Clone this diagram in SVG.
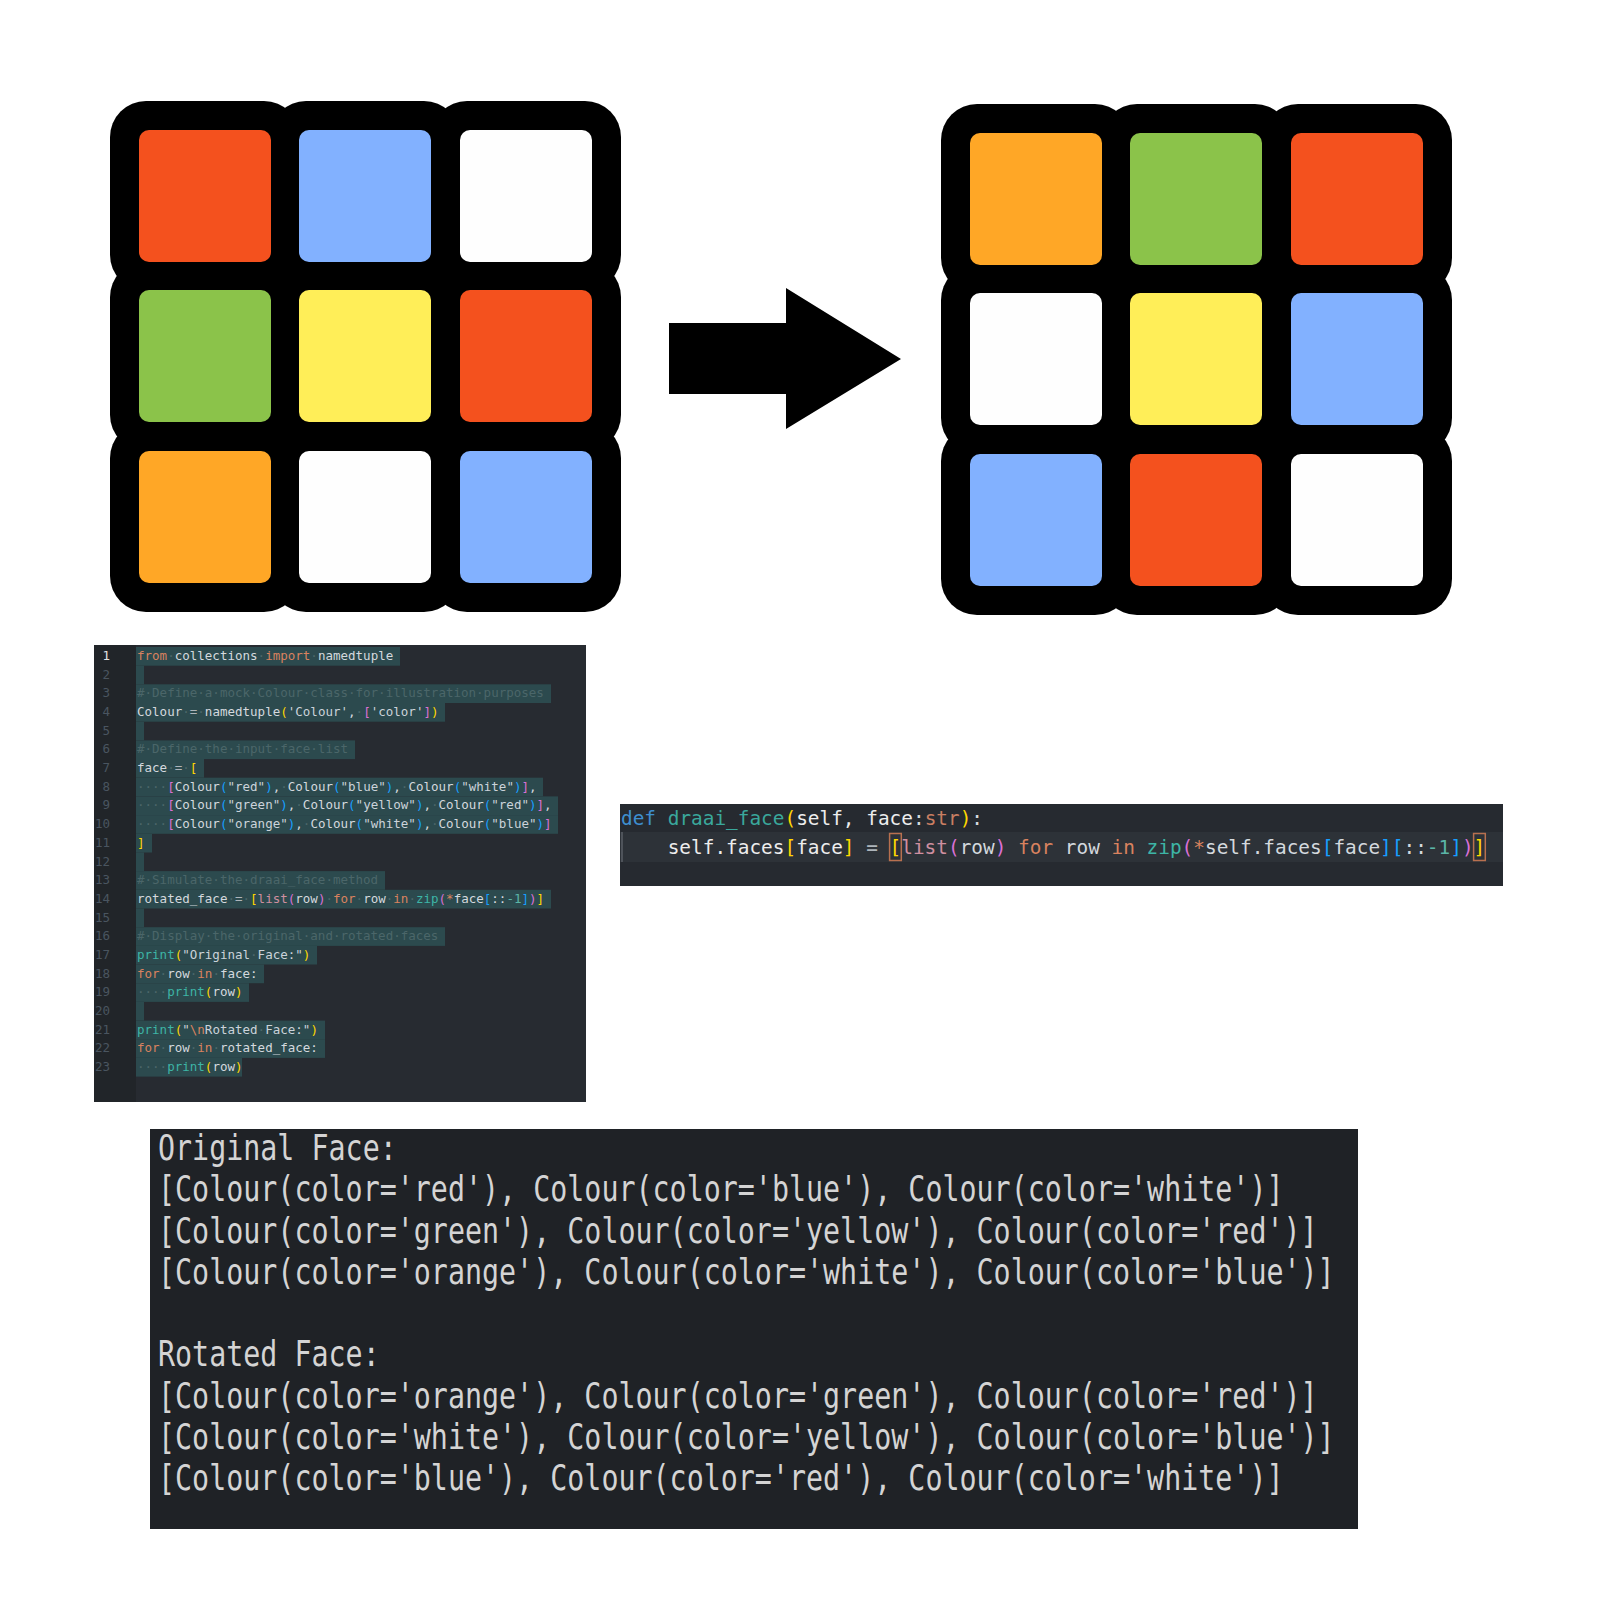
<svg xmlns="http://www.w3.org/2000/svg" width="1600" height="1600" viewBox="0 0 1600 1600">
<style>
.blk{fill:#000}
.r{fill:#F4511E}.b{fill:#82B1FF}.w{fill:#FEFEFE}.g{fill:#8BC34A}.y{fill:#FFEE58}.o{fill:#FFA726}
.mono{font-family:"DejaVu Sans Mono","Liberation Mono",monospace;white-space:pre}
.c1{font-size:12.52px}
.c2{font-size:19.4px}
.c3{font-size:35px;fill:#D4D4D4}
.ln{fill:#4A5560;text-anchor:end}
.ln1{fill:#E2E2E2;text-anchor:end}
.id{fill:#D4D9DE}.kw{fill:#D9825F}.cm{fill:#4B6669}.st{fill:#CBD3DA}.fn{fill:#3DB5A6}
.b1{fill:#FFD700}.b2{fill:#DA70D6}.b3{fill:#179FFF}.ws{fill:#4B6669}.op{fill:#AEB5BB}
.ls{fill:#CF8FA0}.nm{fill:#5BB5A7}.kb{fill:#3E8FD0}.ft{fill:#3AA89C}.wh{fill:#EDEDED}.sl{fill:#C97E62}
.sel{fill:#2C4A4E}
</style>
<rect width="1600" height="1600" fill="#FFFFFF"/>

<g id="face-original">
<rect class="blk" x="110" y="101" width="190" height="190" rx="36"/>
<rect class="blk" x="270" y="101" width="190" height="190" rx="36"/>
<rect class="blk" x="431" y="101" width="190" height="190" rx="36"/>
<rect class="blk" x="110" y="261" width="190" height="190" rx="36"/>
<rect class="blk" x="270" y="261" width="190" height="190" rx="36"/>
<rect class="blk" x="431" y="261" width="190" height="190" rx="36"/>
<rect class="blk" x="110" y="422" width="190" height="190" rx="36"/>
<rect class="blk" x="270" y="422" width="190" height="190" rx="36"/>
<rect class="blk" x="431" y="422" width="190" height="190" rx="36"/>
<rect class="r" x="139" y="130" width="132" height="132" rx="10"/>
<rect class="b" x="299" y="130" width="132" height="132" rx="10"/>
<rect class="w" x="460" y="130" width="132" height="132" rx="10"/>
<rect class="g" x="139" y="290" width="132" height="132" rx="10"/>
<rect class="y" x="299" y="290" width="132" height="132" rx="10"/>
<rect class="r" x="460" y="290" width="132" height="132" rx="10"/>
<rect class="o" x="139" y="451" width="132" height="132" rx="10"/>
<rect class="w" x="299" y="451" width="132" height="132" rx="10"/>
<rect class="b" x="460" y="451" width="132" height="132" rx="10"/>
</g>

<g id="face-rotated">
<rect class="blk" x="941" y="104" width="190" height="190" rx="36"/>
<rect class="blk" x="1101" y="104" width="190" height="190" rx="36"/>
<rect class="blk" x="1262" y="104" width="190" height="190" rx="36"/>
<rect class="blk" x="941" y="264" width="190" height="190" rx="36"/>
<rect class="blk" x="1101" y="264" width="190" height="190" rx="36"/>
<rect class="blk" x="1262" y="264" width="190" height="190" rx="36"/>
<rect class="blk" x="941" y="425" width="190" height="190" rx="36"/>
<rect class="blk" x="1101" y="425" width="190" height="190" rx="36"/>
<rect class="blk" x="1262" y="425" width="190" height="190" rx="36"/>
<rect class="o" x="970" y="133" width="132" height="132" rx="10"/>
<rect class="g" x="1130" y="133" width="132" height="132" rx="10"/>
<rect class="r" x="1291" y="133" width="132" height="132" rx="10"/>
<rect class="w" x="970" y="293" width="132" height="132" rx="10"/>
<rect class="y" x="1130" y="293" width="132" height="132" rx="10"/>
<rect class="b" x="1291" y="293" width="132" height="132" rx="10"/>
<rect class="b" x="970" y="454" width="132" height="132" rx="10"/>
<rect class="r" x="1130" y="454" width="132" height="132" rx="10"/>
<rect class="w" x="1291" y="454" width="132" height="132" rx="10"/>
</g>

<g id="connectors">
<polygon points="669,323 786,323 786,288 901,359 786,429 786,394 669,394" fill="#000"/>
</g>

<g id="code-editor">
<rect x="94" y="645" width="492" height="457" fill="#272B31"/>
<rect x="94" y="645" width="42" height="457" fill="#212529"/>
<g id="selection">
<rect class="sel" x="136" y="647" width="264" height="18.7"/>
<rect class="sel" x="136" y="665.6" width="8" height="18.7"/>
<rect class="sel" x="136" y="684.3" width="415" height="18.7"/>
<rect class="sel" x="136" y="703" width="309" height="18.7"/>
<rect class="sel" x="136" y="721.7" width="8" height="18.7"/>
<rect class="sel" x="136" y="740.4" width="219" height="18.7"/>
<rect class="sel" x="136" y="759" width="68" height="18.7"/>
<rect class="sel" x="136" y="777.7" width="407" height="18.7"/>
<rect class="sel" x="136" y="796.4" width="422" height="18.7"/>
<rect class="sel" x="136" y="815.1" width="422" height="18.7"/>
<rect class="sel" x="136" y="833.8" width="16" height="18.7"/>
<rect class="sel" x="136" y="852.4" width="8" height="18.7"/>
<rect class="sel" x="136" y="871.1" width="249" height="18.7"/>
<rect class="sel" x="136" y="889.8" width="415" height="18.7"/>
<rect class="sel" x="136" y="908.5" width="8" height="18.7"/>
<rect class="sel" x="136" y="927.2" width="309" height="18.7"/>
<rect class="sel" x="136" y="945.8" width="181" height="18.7"/>
<rect class="sel" x="136" y="964.5" width="128" height="18.7"/>
<rect class="sel" x="136" y="983.2" width="113" height="18.7"/>
<rect class="sel" x="136" y="1001.9" width="8" height="18.7"/>
<rect class="sel" x="136" y="1020.6" width="189" height="18.7"/>
<rect class="sel" x="136" y="1039.2" width="189" height="18.7"/>
<rect class="sel" x="136" y="1057.9" width="106" height="18.7"/>
</g>
<g class="mono c1">
<text class="ln1" x="110" y="660">1</text>
<text class="ln" x="110" y="678.7">2</text>
<text class="ln" x="110" y="697.4">3</text>
<text class="ln" x="110" y="716">4</text>
<text class="ln" x="110" y="734.7">5</text>
<text class="ln" x="110" y="753.4">6</text>
<text class="ln" x="110" y="772.1">7</text>
<text class="ln" x="110" y="790.8">8</text>
<text class="ln" x="110" y="809.4">9</text>
<text class="ln" x="110" y="828.1">10</text>
<text class="ln" x="110" y="846.8">11</text>
<text class="ln" x="110" y="865.5">12</text>
<text class="ln" x="110" y="884.2">13</text>
<text class="ln" x="110" y="902.8">14</text>
<text class="ln" x="110" y="921.5">15</text>
<text class="ln" x="110" y="940.2">16</text>
<text class="ln" x="110" y="958.9">17</text>
<text class="ln" x="110" y="977.6">18</text>
<text class="ln" x="110" y="996.2">19</text>
<text class="ln" x="110" y="1014.9">20</text>
<text class="ln" x="110" y="1033.6">21</text>
<text class="ln" x="110" y="1052.3">22</text>
<text class="ln" x="110" y="1071">23</text>
<text x="137" y="660"><tspan class="kw">from</tspan><tspan class="ws">·</tspan><tspan class="id">collections</tspan><tspan class="ws">·</tspan><tspan class="kw">import</tspan><tspan class="ws">·</tspan><tspan class="id">namedtuple</tspan></text>
<text x="137" y="697.4" class="cm">#·Define·a·mock·Colour·class·for·illustration·purposes</text>
<text x="137" y="716"><tspan class="id">Colour</tspan><tspan class="ws">·</tspan><tspan class="op">=</tspan><tspan class="ws">·</tspan><tspan class="id">namedtuple</tspan><tspan class="b1">(</tspan><tspan class="st">'Colour'</tspan><tspan class="id">,</tspan><tspan class="ws">·</tspan><tspan class="b2">[</tspan><tspan class="st">'color'</tspan><tspan class="b2">]</tspan><tspan class="b1">)</tspan></text>
<text x="137" y="753.4" class="cm">#·Define·the·input·face·list</text>
<text x="137" y="772.1"><tspan class="id">face</tspan><tspan class="ws">·</tspan><tspan class="op">=</tspan><tspan class="ws">·</tspan><tspan class="b1">[</tspan></text>
<text x="137" y="790.8"><tspan class="ws">····</tspan><tspan class="b2">[</tspan><tspan class="id">Colour</tspan><tspan class="b3">(</tspan><tspan class="st">"red"</tspan><tspan class="b3">)</tspan><tspan class="id">,</tspan><tspan class="ws">·</tspan><tspan class="id">Colour</tspan><tspan class="b3">(</tspan><tspan class="st">"blue"</tspan><tspan class="b3">)</tspan><tspan class="id">,</tspan><tspan class="ws">·</tspan><tspan class="id">Colour</tspan><tspan class="b3">(</tspan><tspan class="st">"white"</tspan><tspan class="b3">)</tspan><tspan class="b2">]</tspan><tspan class="id">,</tspan></text>
<text x="137" y="809.4"><tspan class="ws">····</tspan><tspan class="b2">[</tspan><tspan class="id">Colour</tspan><tspan class="b3">(</tspan><tspan class="st">"green"</tspan><tspan class="b3">)</tspan><tspan class="id">,</tspan><tspan class="ws">·</tspan><tspan class="id">Colour</tspan><tspan class="b3">(</tspan><tspan class="st">"yellow"</tspan><tspan class="b3">)</tspan><tspan class="id">,</tspan><tspan class="ws">·</tspan><tspan class="id">Colour</tspan><tspan class="b3">(</tspan><tspan class="st">"red"</tspan><tspan class="b3">)</tspan><tspan class="b2">]</tspan><tspan class="id">,</tspan></text>
<text x="137" y="828.1"><tspan class="ws">····</tspan><tspan class="b2">[</tspan><tspan class="id">Colour</tspan><tspan class="b3">(</tspan><tspan class="st">"orange"</tspan><tspan class="b3">)</tspan><tspan class="id">,</tspan><tspan class="ws">·</tspan><tspan class="id">Colour</tspan><tspan class="b3">(</tspan><tspan class="st">"white"</tspan><tspan class="b3">)</tspan><tspan class="id">,</tspan><tspan class="ws">·</tspan><tspan class="id">Colour</tspan><tspan class="b3">(</tspan><tspan class="st">"blue"</tspan><tspan class="b3">)</tspan><tspan class="b2">]</tspan></text>
<text x="137" y="846.8" class="b1">]</text>
<text x="137" y="884.2" class="cm">#·Simulate·the·draai_face·method</text>
<text x="137" y="902.8"><tspan class="id">rotated_face</tspan><tspan class="ws">·</tspan><tspan class="op">=</tspan><tspan class="ws">·</tspan><tspan class="b1">[</tspan><tspan class="ls">list</tspan><tspan class="b2">(</tspan><tspan class="id">row</tspan><tspan class="b2">)</tspan><tspan class="ws">·</tspan><tspan class="kw">for</tspan><tspan class="ws">·</tspan><tspan class="id">row</tspan><tspan class="ws">·</tspan><tspan class="kw">in</tspan><tspan class="ws">·</tspan><tspan class="fn">zip</tspan><tspan class="b2">(</tspan><tspan class="kw">*</tspan><tspan class="id">face</tspan><tspan class="b3">[</tspan><tspan class="id">::</tspan><tspan class="nm">-1</tspan><tspan class="b3">]</tspan><tspan class="b2">)</tspan><tspan class="b1">]</tspan></text>
<text x="137" y="940.2" class="cm">#·Display·the·original·and·rotated·faces</text>
<text x="137" y="958.9"><tspan class="fn">print</tspan><tspan class="b1">(</tspan><tspan class="st">"Original</tspan><tspan class="ws">·</tspan><tspan class="st">Face:"</tspan><tspan class="b1">)</tspan></text>
<text x="137" y="977.6"><tspan class="kw">for</tspan><tspan class="ws">·</tspan><tspan class="id">row</tspan><tspan class="ws">·</tspan><tspan class="kw">in</tspan><tspan class="ws">·</tspan><tspan class="id">face:</tspan></text>
<text x="137" y="996.2"><tspan class="ws">····</tspan><tspan class="fn">print</tspan><tspan class="b1">(</tspan><tspan class="id">row</tspan><tspan class="b1">)</tspan></text>
<text x="137" y="1033.6"><tspan class="fn">print</tspan><tspan class="b1">(</tspan><tspan class="st">"</tspan><tspan class="kw">\n</tspan><tspan class="st">Rotated</tspan><tspan class="ws">·</tspan><tspan class="st">Face:"</tspan><tspan class="b1">)</tspan></text>
<text x="137" y="1052.3"><tspan class="kw">for</tspan><tspan class="ws">·</tspan><tspan class="id">row</tspan><tspan class="ws">·</tspan><tspan class="kw">in</tspan><tspan class="ws">·</tspan><tspan class="id">rotated_face:</tspan></text>
<text x="137" y="1071"><tspan class="ws">····</tspan><tspan class="fn">print</tspan><tspan class="b1">(</tspan><tspan class="id">row</tspan><tspan class="b1">)</tspan></text>
</g>
</g>

<g id="method-snippet">
<rect x="620" y="804" width="883" height="82" fill="#262A30"/>
<rect x="620" y="832" width="883" height="30" fill="#2D3238"/>
<line x1="622" y1="832" x2="622" y2="862" stroke="#5A5F66" stroke-width="1.5"/>
<rect x="889.6" y="833.5" width="11.7" height="27" fill="none" stroke="#B8704F" stroke-width="1.5"/>
<rect x="1473.6" y="833.5" width="11.7" height="27" fill="none" stroke="#B8704F" stroke-width="1.5"/>
<g class="mono c2">
<text x="621" y="825"><tspan class="kb">def</tspan> <tspan class="ft">draai_face</tspan><tspan class="b1">(</tspan><tspan class="wh">self</tspan><tspan class="wh">,</tspan> <tspan class="wh">face</tspan><tspan class="id">:</tspan><tspan class="sl">str</tspan><tspan class="b1">)</tspan><tspan class="id">:</tspan></text>
<text x="667.7" y="854"><tspan class="wh">self.faces</tspan><tspan class="b1">[</tspan><tspan class="wh">face</tspan><tspan class="b1">]</tspan> <tspan class="op">=</tspan> <tspan class="b1">[</tspan><tspan class="ls">list</tspan><tspan class="b2">(</tspan><tspan class="id">row</tspan><tspan class="b2">)</tspan> <tspan class="kw">for</tspan> <tspan class="id">row</tspan> <tspan class="kw">in</tspan> <tspan class="fn">zip</tspan><tspan class="b2">(</tspan><tspan class="kw">*</tspan><tspan class="id">self.faces</tspan><tspan class="b3">[</tspan><tspan class="id">face</tspan><tspan class="b3">]</tspan><tspan class="b3">[</tspan><tspan class="id">::</tspan><tspan class="nm">-1</tspan><tspan class="b3">]</tspan><tspan class="b2">)</tspan><tspan class="b1">]</tspan></text>
</g>
</g>

<g id="output-console">
<rect x="150" y="1129" width="1208" height="400" fill="#1F2226"/>
<g class="mono c3" transform="translate(158,0) scale(0.8097,1)">
<text x="0" y="1160">Original Face:</text>
<text x="0" y="1201.3">[Colour(color='red'), Colour(color='blue'), Colour(color='white')]</text>
<text x="0" y="1242.6">[Colour(color='green'), Colour(color='yellow'), Colour(color='red')]</text>
<text x="0" y="1283.9">[Colour(color='orange'), Colour(color='white'), Colour(color='blue')]</text>
<text x="0" y="1366.5">Rotated Face:</text>
<text x="0" y="1407.8">[Colour(color='orange'), Colour(color='green'), Colour(color='red')]</text>
<text x="0" y="1449.1">[Colour(color='white'), Colour(color='yellow'), Colour(color='blue')]</text>
<text x="0" y="1490.4">[Colour(color='blue'), Colour(color='red'), Colour(color='white')]</text>
</g>
</g>
</svg>
